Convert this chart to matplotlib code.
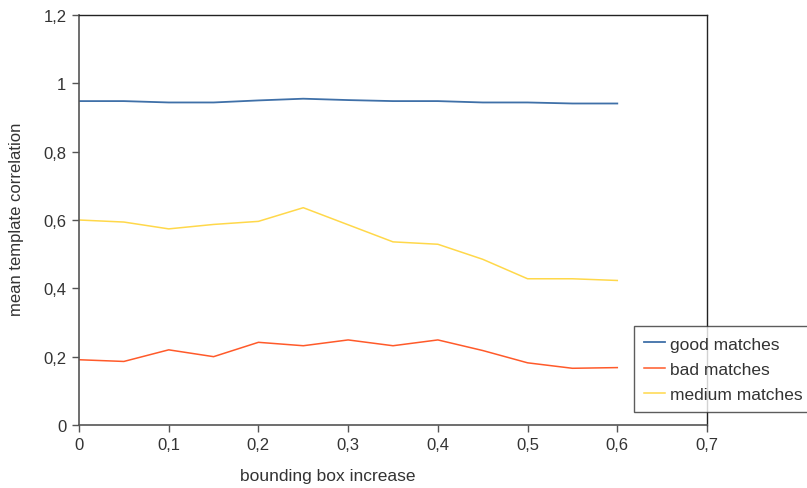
import matplotlib
matplotlib.use('Agg')
import matplotlib.pyplot as plt

plt.rcParams['font.family'] = ['Liberation Sans', 'DejaVu Sans']

bbox_inc = [0, 0.05, 0.1, 0.15, 0.2, 0.25, 0.3, 0.35, 0.4, 0.45, 0.5, 0.55, 0.6]
good = [0.948, 0.948, 0.944, 0.944, 0.950, 0.955, 0.951, 0.948, 0.948, 0.944, 0.944, 0.941, 0.941]
bad = [0.191, 0.186, 0.220, 0.200, 0.242, 0.232, 0.249, 0.232, 0.249, 0.218, 0.182, 0.166, 0.168]
medium = [0.600, 0.594, 0.574, 0.587, 0.596, 0.636, 0.586, 0.536, 0.529, 0.485, 0.428, 0.428, 0.423]

xticks = [0, 0.1, 0.2, 0.3, 0.4, 0.5, 0.6, 0.7]
yticks = [0, 0.2, 0.4, 0.6, 0.8, 1.0, 1.2]

fig = plt.figure(figsize=(8.07, 4.89), dpi=100)
ax = fig.add_axes([79/807, 1-426/489, 628/807, 410/489])

ax.plot(bbox_inc, good, color='#3f70a8', lw=1.3, label='good matches')
ax.plot(bbox_inc, bad, color='#ff5a2a', lw=1.1, label='bad matches')
ax.plot(bbox_inc, medium, color='#ffd84a', lw=1.1, label='medium matches')

ax.set_xlim(0, 0.7)
ax.set_ylim(0, 1.2)
ax.set_xticks(xticks)
ax.set_yticks(yticks)
ax.set_xticklabels([('%g' % v).replace('.', ',') for v in xticks])
ax.set_yticklabels([('%g' % v).replace('.', ',') for v in yticks])
ax.tick_params(direction='out', length=5, width=1, color='#555555',
               labelsize=12, labelcolor='#333333', pad=4)

for side in ['left', 'bottom']:
    ax.spines[side].set_color('#555555')
    ax.spines[side].set_linewidth(1.2)
for side in ['top', 'right']:
    ax.spines[side].set_color('#222222')
    ax.spines[side].set_linewidth(1.0)

ax.set_xlabel('bounding box increase', fontsize=12.5, color='#333333')
ax.xaxis.set_label_coords(0.396, -0.105)
ax.set_ylabel('mean template correlation', fontsize=12, color='#333333')
ax.yaxis.set_label_coords(-0.087, 0.505)

leg = fig.legend(loc='upper left', bbox_to_anchor=(634/807, 1-327/489),
                 fontsize=12.5, frameon=True, fancybox=False, handlelength=1.2,
                 handletextpad=0.3, borderpad=0.6, labelspacing=0.58,
                 borderaxespad=0)
leg.get_frame().set_edgecolor('#333333')
leg.get_frame().set_linewidth(1.0)
for t in leg.get_texts():
    t.set_color('#333333')

fig.savefig('out.png', dpi=100)
